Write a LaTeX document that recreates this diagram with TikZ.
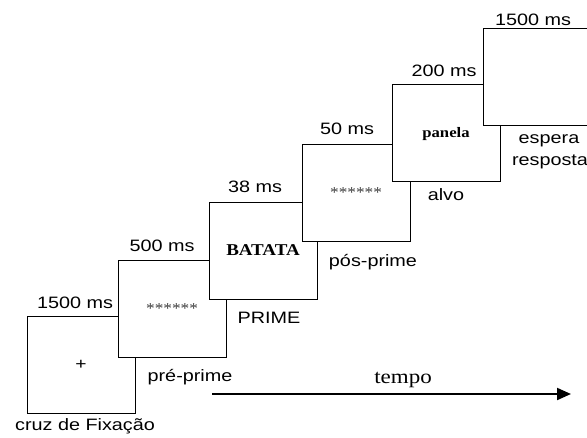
\documentclass[tikz,border=0pt]{standalone}
\usepackage{fontspec}
\usetikzlibrary{arrows.meta}
\newfontfamily\labfont[FakeStretch=1.2]{Liberation Sans}
\newfontfamily\serfont[FakeStretch=1.15]{Liberation Serif}
\definecolor{stargray}{RGB}{60,60,60}
\tikzset{
  screen/.style={draw=black, line width=1pt, fill=white, anchor=north west,
    minimum width=108pt, minimum height=97pt, inner sep=0pt, outer sep=0pt},
  lab/.style={anchor=base, inner sep=0pt, font=\labfont\fontsize{16.5}{18}\selectfont},
  stars/.style={text=stargray, font=\serfont\fontsize{15}{16}\selectfont},
  word/.style={font=\serfont\bfseries\fontsize{16.5}{18}\selectfont},
  timearrow/.style={line width=2pt, -{Triangle[length=14pt,width=12pt]}}
}
\begin{document}
\begin{tikzpicture}[x=1pt,y=-1pt]
\clip (0,0) rectangle (587,437);
\fill[white] (0,0) rectangle (587,437);
% screens
\node[screen] (s1) at (27,316) {\labfont\fontsize{16}{18}\selectfont +};
\node[screen] (s2) at (118,260) {};
\node[stars] at (s2.center) {******};
\node[screen] (s3) at (209,202) {};
\node[word] (w3) at (s3.center) {BATATA};
\node[screen] (s4) at (302,144) {};
\node[stars] (st4) at (s4.center) {******};
\node[screen] (s5) at (392,84) {};
\node[word, font=\serfont\bfseries\fontsize{14.5}{16}\selectfont] (w5) at ([yshift=-2pt]s5.center) {panela};
\node[screen] (s6) at (483,28) {};
% labels
\node[lab] (d1) at (75,308) {1500 ms};
\node[lab] (n1) at (85,430) {cruz de Fixação};
\node[lab] (d2) at (162,251) {500 ms};
\node[lab] (n2) at (190,381) {pré-prime};
\node[lab] (d3) at (255,192) {38 ms};
\node[lab] (n3) at (269,323) {PRIME};
\node[lab] (d4) at (347,134) {50 ms};
\node[lab] (n4) at (373,266) {pós-prime};
\node[lab] (d5) at (444,76) {200 ms};
\node[lab] (n5) at (446,200) {alvo};
\node[lab] (d6) at (533,25) {1500 ms};
\node[lab] (n6a) at (549,143) {espera};
\node[lab] (n6b) at (550,165) {resposta};
% time arrow
\node[anchor=base, inner sep=0pt, font=\serfont\fontsize{20}{22}\selectfont] (t) at (403,383) {tempo};
\coordinate (a0) at (212,394);
\coordinate (a1) at (571,394);
\draw[timearrow] (a0) -- (a1);
\end{tikzpicture}
\end{document}
